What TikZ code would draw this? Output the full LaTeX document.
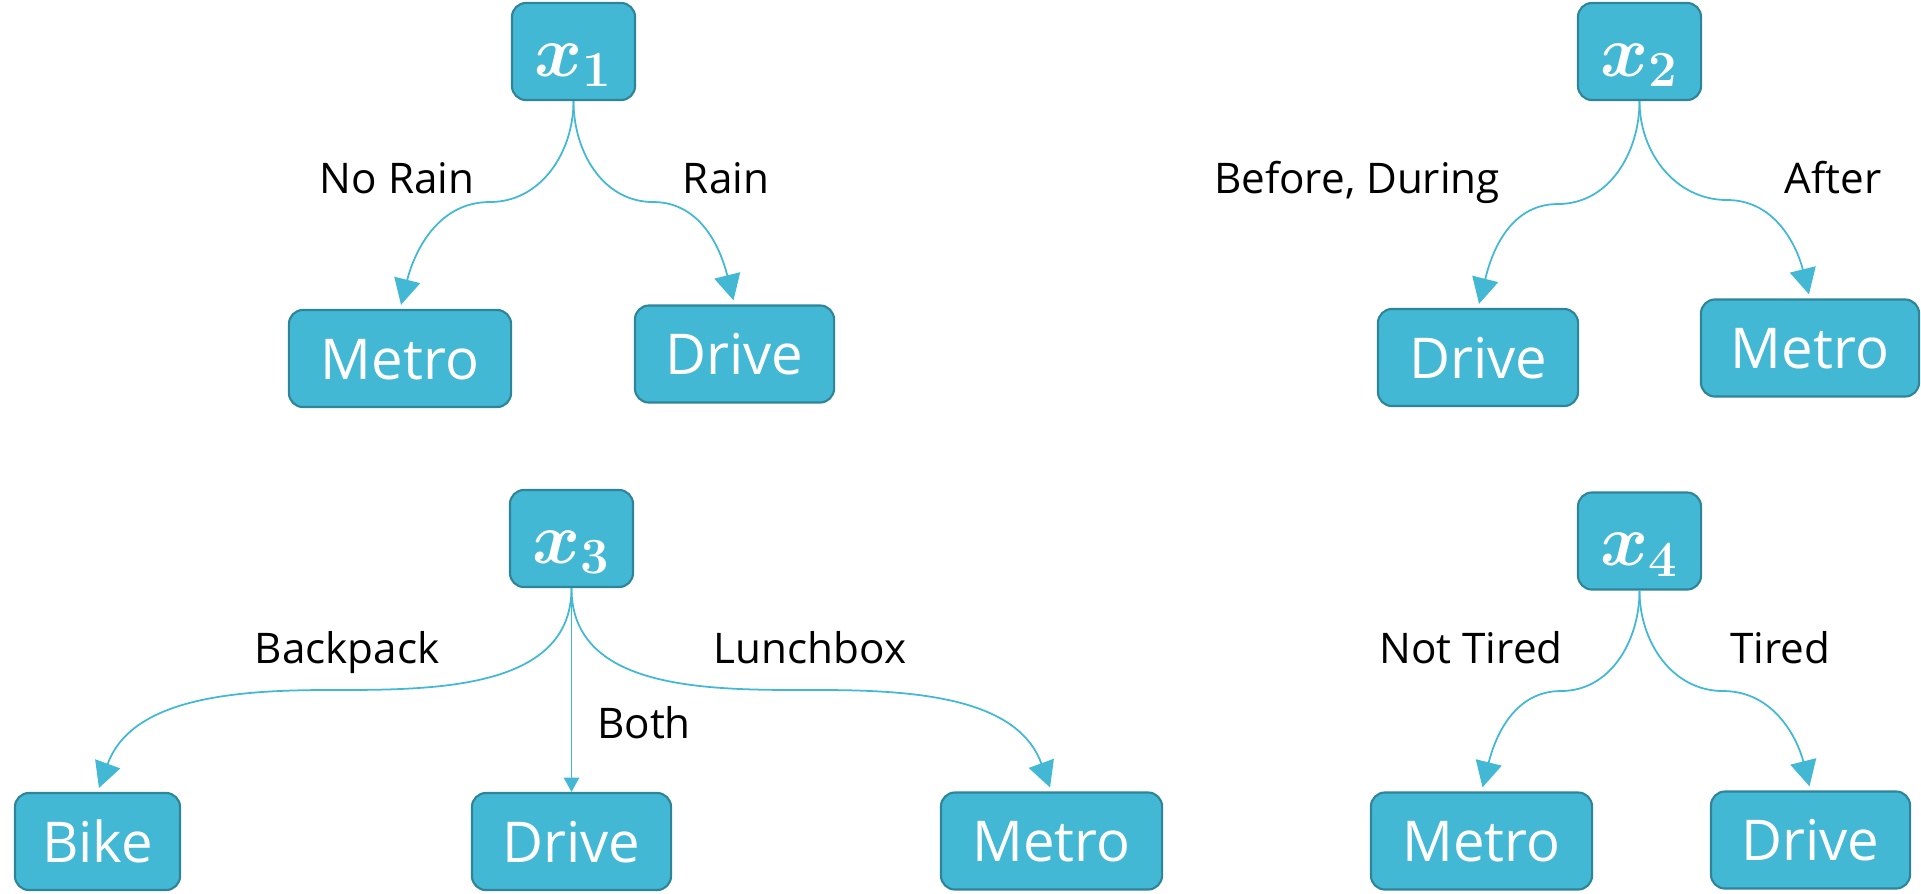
\documentclass[tikz,border=0pt]{standalone}
\usepackage[no-math]{fontspec}
\setmainfont{Open Sans}
\usepackage{amsmath}
\usetikzlibrary{arrows.meta}
\definecolor{boxfill}{RGB}{66,184,212}
\definecolor{boxline}{RGB}{46,132,152}
\definecolor{edgecol}{RGB}{66,184,212}
\begin{document}
\begin{tikzpicture}[x=0.01cm, y=-0.01cm,
  rootbox/.style={draw=boxline, fill=boxfill, line width=0.6pt, rounded corners=0.14cm,
    minimum width=1.23cm, minimum height=0.97cm, inner sep=0pt, text=white,
    font=\fontsize{20}{24}\selectfont, text height=0.52cm, text depth=0.03cm},
  leafbox/.style={draw=boxline, fill=boxfill, line width=0.6pt, rounded corners=0.14cm,
    minimum height=0.97cm, inner sep=0pt, text=white,
    font=\fontsize{16}{19}\selectfont, text height=0.41cm, text depth=0pt},
  lbl/.style={anchor=base, font=\fontsize{12}{14}\selectfont, inner sep=0pt},
  conn/.style={draw=edgecol, line width=0.5pt, shorten >=1.2pt, -{Triangle[length=7.3pt,width=7.5pt]}},
  thinconn/.style={draw=edgecol, line width=0.5pt, -{Triangle[length=4.1pt,width=4.4pt]}}]
\useasboundingbox (0,0) rectangle (1921,893);

% Tree 1
\node[rootbox] (r1) at (573.5,51.5) {$\boldsymbol{x_1}$};
\node[leafbox, minimum width=2.22cm] (a1) at (400,358.5) {Metro};
\node[leafbox, minimum width=1.99cm] (b1) at (734.5,354) {Drive};
\coordinate (m1a) at (490,202);
\coordinate (m1b) at (653,202);
\draw[conn] (r1.south) to[out=-90,in=0] (m1a) to[out=180,in=76] (a1.north);
\draw[conn] (r1.south) to[out=-90,in=180] (m1b) to[out=0,in=104] (b1.north);
\node[lbl] (l1a) at (397,193) {No Rain};
\node[lbl] (l1b) at (726,193) {Rain};

% Tree 2
\node[rootbox] (r2) at (1639.5,51.5) {$\boldsymbol{x_2}$};
\node[leafbox, minimum width=2.00cm] (a2) at (1478,357.5) {Drive};
\node[leafbox, minimum width=2.18cm] (b2) at (1810,348) {Metro};
\coordinate (m2a) at (1558,204);
\coordinate (m2b) at (1727,200);
\draw[conn] (r2.south) to[out=-90,in=0] (m2a) to[out=180,in=76] (a2.north);
\draw[conn] (r2.south) to[out=-90,in=180] (m2b) to[out=0,in=104] (b2.north);
\node[lbl] (l2a) at (1357,193) {Before, During};
\node[lbl] (l2b) at (1833,193) {After};

% Tree 3
\node[rootbox] (r3) at (571.5,538.5) {$\boldsymbol{x_3}$};
\node[leafbox, minimum width=1.65cm] (a3) at (97.5,841.5) {Bike};
\node[leafbox, minimum width=1.99cm] (b3) at (571.5,841.5) {Drive};
\node[leafbox, minimum width=2.21cm] (c3) at (1051.5,841) {Metro};
\coordinate (m3a) at (328,690);
\coordinate (m3c) at (820,690);
\draw[conn] (r3.south) to[out=-90,in=0] (m3a) to[out=180,in=70] (a3.north);
\draw[thinconn] (r3.south) -- (b3.north);
\draw[conn] (r3.south) to[out=-90,in=180] (m3c) to[out=0,in=110] (c3.north);
\node[lbl] (l3a) at (347,663) {Backpack};
\node[lbl] (l3b) at (644,738) {Both};
\node[lbl] (l3c) at (810,663) {Lunchbox};

% Tree 4
\node[rootbox] (r4) at (1639.5,541) {$\boldsymbol{x_4}$};
\node[leafbox, minimum width=2.21cm] (a4) at (1481.5,841) {Metro};
\node[leafbox, minimum width=1.99cm] (b4) at (1810.5,840) {Drive};
\coordinate (m4a) at (1561,691);
\coordinate (m4b) at (1723,691);
\draw[conn] (r4.south) to[out=-90,in=0] (m4a) to[out=180,in=76] (a4.north);
\draw[conn] (r4.south) to[out=-90,in=180] (m4b) to[out=0,in=104] (b4.north);
\node[lbl] (l4a) at (1471,663) {Not Tired};
\node[lbl] (l4b) at (1780,663) {Tired};
\end{tikzpicture}
\end{document}
